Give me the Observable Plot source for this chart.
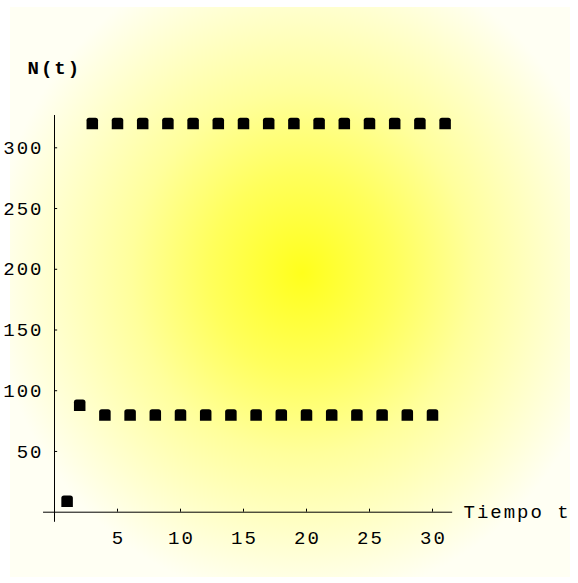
<!DOCTYPE html>
<html>
<head>
<meta charset="utf-8">
<script src="https://cdn.jsdelivr.net/npm/d3@7"></script>
<script src="https://cdn.jsdelivr.net/npm/@observablehq/plot@0.6"></script>
<style>
  html, body { margin: 0; padding: 0; background: #ffffff; }
  #wrap { position: relative; width: 578px; height: 583px; overflow: hidden; }
  #bg { position: absolute; left: 10px; top: 7px; width: 560px; height: 570px;
        background: radial-gradient(ellipse 310px 330px at 292px 266px,
          #ffff1c 0%, #ffff5c 30%, #ffff9c 55%, #ffffcc 80%, #fffff3 100%); }
  #chart { position: absolute; left: 0; top: 0; }
  #chart svg text { letter-spacing: 2px; }
</style>
</head>
<body>
<div id="wrap"><div id="bg"></div><div id="chart"></div></div>
<script>
// Data
const tValues = [1, 2, 3, 4, 5, 6, 7, 8, 9, 10, 11, 12, 13, 14, 15, 16,
                 17, 18, 19, 20, 21, 22, 23, 24, 25, 26, 27, 28, 29, 30, 31];
const nValues = [9, 88, 320, 80, 320, 80, 320, 80, 320, 80, 320, 80, 320, 80, 320, 80,
                 320, 80, 320, 80, 320, 80, 320, 80, 320, 80, 320, 80, 320, 80, 320];
const xTicks = [5, 10, 15, 20, 25, 30];
const yTicks = [50, 100, 150, 200, 250, 300];
const xLabel = "Tiempo t";
const yLabel = "N(t)";

const data = tValues.map((t, i) => ({t, n: nValues[i]}));

const font = "'Liberation Mono', 'DejaVu Sans Mono', monospace";
const fs = 19;

// square with rounded top corners
const roundTop = {
  draw(ctx, size) {
    const s = Math.sqrt(size) / 2;
    const r = s * 0.45;
    ctx.moveTo(-s, s);
    ctx.lineTo(-s, -s + r);
    ctx.quadraticCurveTo(-s, -s, -s + r, -s);
    ctx.lineTo(s - r, -s);
    ctx.quadraticCurveTo(s, -s, s, -s + r);
    ctx.lineTo(s, s);
    ctx.closePath();
  }
};

const chart = Plot.plot({
  width: 578,
  height: 583,
  style: {background: "transparent", overflow: "visible"},
  x: {domain: [0, 30], range: [54, 432], axis: null},
  y: {domain: [0, 300], range: [511.7, 147.3], axis: null},
  marks: [
    Plot.ruleY([0], {x1: -0.87, x2: 31.6, stroke: "black", strokeWidth: 1}),
    Plot.ruleX([0], {y1: -8.3, y2: 326.6, stroke: "black", strokeWidth: 1}),
    Plot.ruleX(xTicks, {x: d => d, y1: 0, y2: 2.5, stroke: "black"}),
    Plot.ruleY(yTicks, {y: d => d, x1: 0, x2: 0.25, stroke: "black"}),
    Plot.text(yTicks, {x: 0, y: d => d, text: d => String(d), textAnchor: "end", dx: -11,
      fontFamily: font, fontSize: fs, fill: "black"}),
    Plot.text(xTicks, {x: d => d, y: 0, text: d => String(d), dy: 26, dx: 1,
      fontFamily: font, fontSize: fs, fill: "black"}),
    Plot.text([xLabel], {x: 30, y: 0, text: d => d, textAnchor: "start", dx: 31,
      fontFamily: font, fontSize: fs, fill: "black"}),
    Plot.text([yLabel], {x: 0, y: 300, text: d => d, textAnchor: "start", dx: -27, dy: -80,
      fontFamily: font, fontSize: fs, fill: "black", fontWeight: "bold"}),
    Plot.dot(data, {x: "t", y: "n", symbol: roundTop, r: 6.5, fill: "black", stroke: "none"})
  ]
});
document.getElementById("chart").appendChild(chart);
</script>
</body>
</html>
